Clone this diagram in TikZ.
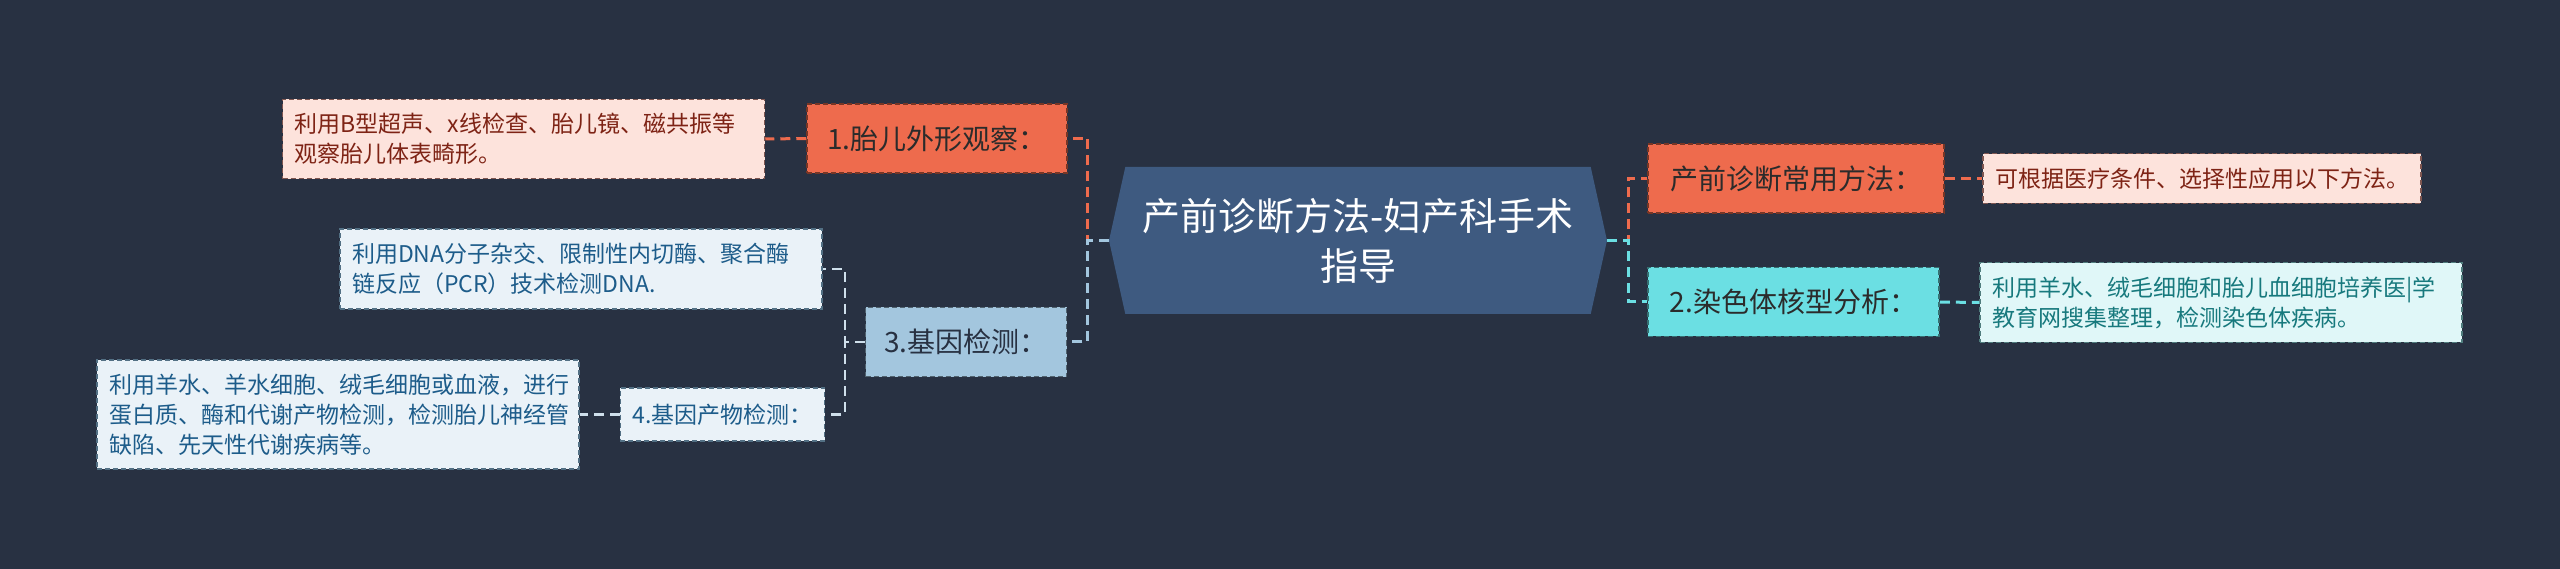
\documentclass[tikz,border=0pt]{standalone}
\usepackage{fontspec}
\setmainfont{Noto Sans CJK SC}
\usetikzlibrary{shapes.symbols}
\definecolor{bgnavy}{HTML}{283142}
\definecolor{rootblue}{HTML}{3E5A80}
\definecolor{orangec}{HTML}{EE6B4D}
\definecolor{pinkfill}{HTML}{FDE3DC}
\definecolor{pinkink}{HTML}{7E2315}
\definecolor{cyanc}{HTML}{6BDFE3}
\definecolor{cyanfill}{HTML}{E0F7F8}
\definecolor{cyanink}{HTML}{17797D}
\definecolor{paleblue}{HTML}{A3C6DE}
\definecolor{lightfill}{HTML}{EAF2F8}
\definecolor{blueink}{HTML}{1D5C8A}
\definecolor{inkdark}{HTML}{2B2B2B}
\definecolor{paleline}{HTML}{CFDFEB}

\begin{document}
\begin{tikzpicture}[x=1pt,y=1pt,
	rootnode/.style={shape=signal, signal to=west and east, signal pointer angle=155, fill=rootblue, text=white, minimum width=498pt, minimum height=147pt, inner sep=0pt, align=center, font=\fontsize{38}{50}\selectfont},
	midnode/.style={fill=#1, draw=#1!50!black, dash pattern=on 5pt off 3pt, line width=1.5pt, minimum height=69pt, inner sep=0pt, text=inkdark, font=\fontsize{28}{34}\selectfont},
	leafbox/.style 2 args={fill=#1, text=#2, draw=#2!45!gray, dash pattern=on 5pt off 3pt, line width=1.5pt, inner xsep=12pt, inner ysep=14pt, align=left, font=\fontsize{23}{30}\selectfont},
	link/.style={draw=#1, line width=3pt, dash pattern=on 10pt off 6pt}
]
			\fill [bgnavy] (0,0) rectangle (2560,-569);
			\node [rootnode] (root) at (1358,-240.5) {产前诊断方法-妇产科手术\\指导};
			\node [midnode=orangec, minimum width=260pt] (fetal) at (937,-138.5) {1.胎儿外形观察：};
			\node [leafbox={pinkfill}{pinkink}, text width=458pt] (fetaltxt) at (523.5,-139) {利用B型超声、x线检查、胎儿镜、磁共振等\\观察胎儿体表畸形。};
			\node [midnode=paleblue, minimum width=201pt, text=bgnavy] (gene) at (966,-342) {3.基因检测：};
			\node [leafbox={lightfill}{blueink}, text width=458pt] (dnatxt) at (581,-269) {利用DNA分子杂交、限制性内切酶、聚合酶\\链反应（PCR）技术检测DNA.};
			\node [leafbox={lightfill}{blueink}, inner ysep=0pt, minimum width=203pt, minimum height=53pt] (product) at (722.5,-414.5) {4.基因产物检测：};
			\node [leafbox={lightfill}{blueink}, text width=458pt] (producttxt) at (338,-414.5) {利用羊水、羊水细胞、绒毛细胞或血液，进行\\蛋白质、酶和代谢产物检测，检测胎儿神经管\\缺陷、先天性代谢疾病等。};
			\node [midnode=orangec, minimum width=296pt] (common) at (1796,-178.5) {产前诊断常用方法：};
			\node [leafbox={pinkfill}{pinkink}] (commontxt) at (2202,-178.5) {可根据医疗条件、选择性应用以下方法。};
			\node [midnode=cyanc, minimum width=291pt] (karyo) at (1793.5,-302) {2.染色体核型分析：};
			\node [leafbox={cyanfill}{cyanink}, text width=458pt] (karyotxt) at (2221,-302.5) {利用羊水、绒毛细胞和胎儿血细胞培养医|学\\教育网搜集整理，检测染色体疾病。};
			\draw [link=orangec] (root.west) -- ++(-21,0) |- (fetal.east);
			\draw [link=orangec] (fetal.west) -- (fetaltxt.east);
			\draw [link=paleblue] (root.west) -- ++(-21,0) |- (gene.east);
			\draw [link=paleline, line width=2.5pt] (gene.west) -- ++(-20,0) |- (dnatxt.east);
			\draw [link=paleline, line width=2.5pt] (gene.west) -- ++(-20,0) |- (product.east);
			\draw [link=paleline, line width=2.5pt] (product.west) -- (producttxt.east);
			\draw [link=orangec] (root.east) -- ++(21,0) |- (common.west);
			\draw [link=orangec] (common.east) -- (commontxt.west);
			\draw [link=cyanc] (root.east) -- ++(21,0) |- (karyo.west);
			\draw [link=cyanc] (karyo.east) -- (karyotxt.west);
\end{tikzpicture}
\end{document}
